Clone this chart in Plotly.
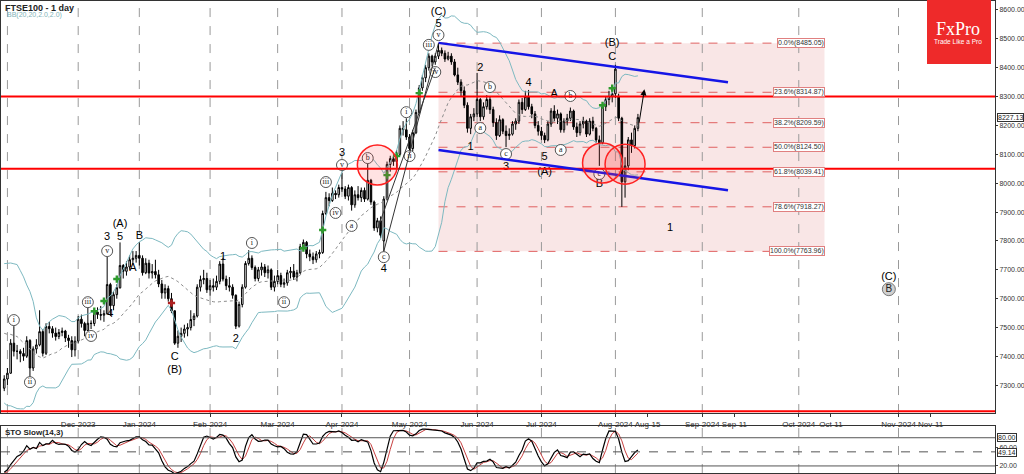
import numpy as np
import pandas as pd
import plotly.graph_objects as go

# ---------------- calendar ----------------
uk_holidays = ["2023-12-25", "2023-12-26", "2024-01-01", "2024-03-29",
               "2024-04-01", "2024-05-06", "2024-05-27"]
first_bar = "2023-10-31"
last_trading_slot = "2024-08-15"   # after this date the axis runs in calendar days

# ---------------- prices (daily OHLC, Oct 31 2023 -> Aug 12 2024) ----------------
opens = [
    7290, 7322, 7342, 7446, 7418, 7418, 7410, 7401, 7455, 7360, 7426, 7440, 7486, 7411, 7504, 7496, 7481, 7469, 7483, 7488, 7464, 7455, 7423,
    7453, 7529, 7514, 7490, 7515, 7514, 7554, 7545, 7543, 7548, 7649, 7576, 7614, 7638, 7715, 7695, 7710, 7735, 7740,
    7750, 7740, 7690, 7723, 7689, 7694, 7683, 7651, 7620, 7635, 7600, 7558, 7446, 7470, 7480, 7495, 7500, 7528, 7540, 7640, 7666, 7670,
    7631, 7645, 7640, 7660, 7720, 7668, 7645, 7640, 7612, 7505, 7580, 7640, 7722, 7740, 7708, 7670, 7700, 7710, 7690, 7700, 7640,
    7660, 7680, 7650, 7655, 7690, 7695, 7675, 7690, 7780, 7795, 7755, 7745, 7735, 7755, 7760, 7895, 7950, 7940, 7965, 7960,
    7985, 7980, 7955, 7985, 7925, 7960, 7950, 7975, 7945, 8010, 7935, 7845, 7870, 7800, 7945, 8065, 8085, 8075, 8100, 8190, 8185,
    8160, 8120, 8175, 8245, 8330, 8365, 8400, 8440, 8420, 8440, 8460, 8450, 8430, 8440, 8420, 8375, 8350, 8320, 8270, 8190, 8230,
    8240, 8290, 8230, 8265, 8290, 8255, 8210, 8165, 8220, 8180, 8165, 8170, 8205, 8215, 8280, 8255, 8300, 8265, 8240, 8200,
    8180, 8165, 8150, 8205, 8250, 8225, 8240, 8185, 8215, 8225, 8250, 8195, 8175, 8205, 8215, 8170, 8215, 8190, 8150, 8140, 8265, 8290, 8300,
    8310, 8300, 8225, 8005, 8060, 8150, 8130, 8190,
]
highs = [
    7335, 7360, 7460, 7505, 7440, 7425, 7430, 7470, 7460, 7435, 7460, 7560, 7495, 7515, 7520, 7505, 7500, 7495, 7500, 7492, 7475, 7470, 7470,
    7540, 7545, 7520, 7580, 7525, 7565, 7570, 7575, 7560, 7745, 7655, 7625, 7650, 7795, 7720, 7730, 7750, 7765, 7765,
    7795, 7750, 7740, 7735, 7720, 7735, 7700, 7665, 7650, 7645, 7620, 7560, 7490, 7500, 7510, 7515, 7560, 7550, 7650, 7680, 7700, 7690,
    7665, 7670, 7680, 7730, 7742, 7680, 7675, 7650, 7615, 7590, 7650, 7730, 7768, 7750, 7715, 7710, 7725, 7720, 7715, 7705, 7680,
    7700, 7690, 7670, 7700, 7710, 7720, 7700, 7790, 7805, 7800, 7770, 7760, 7765, 7770, 7905, 7970, 7965, 7985, 7975, 7995,
    8035, 7990, 7995, 7990, 7975, 7990, 7985, 7985, 8080, 8015, 7940, 7880, 7885, 7955, 8075, 8095, 8100, 8115, 8200, 8215, 8225,
    8170, 8185, 8255, 8340, 8375, 8410, 8450, 8445, 8450, 8485, 8470, 8460, 8455, 8450, 8430, 8400, 8360, 8335, 8280, 8240, 8260,
    8382, 8295, 8280, 8305, 8300, 8265, 8225, 8235, 8225, 8200, 8190, 8215, 8225, 8290, 8295, 8320, 8323, 8275, 8250, 8215,
    8195, 8175, 8215, 8260, 8270, 8255, 8245, 8225, 8240, 8262, 8255, 8210, 8215, 8230, 8220, 8225, 8230, 8195, 8165, 8275, 8300, 8320, 8330,
    8410, 8310, 8230, 8090, 8160, 8175, 8200, 8240,
]
lows = [
    7280, 7300, 7340, 7400, 7390, 7380, 7385, 7395, 7320, 7350, 7410, 7435, 7400, 7405, 7480, 7465, 7455, 7460, 7470, 7450, 7430, 7398, 7400,
    7445, 7500, 7470, 7488, 7495, 7505, 7530, 7525, 7520, 7545, 7540, 7560, 7600, 7635, 7670, 7680, 7700, 7720, 7725,
    7715, 7680, 7685, 7670, 7670, 7670, 7640, 7600, 7600, 7590, 7550, 7440, 7430, 7450, 7465, 7470, 7490, 7505, 7535, 7625, 7650, 7620,
    7610, 7625, 7630, 7650, 7660, 7630, 7625, 7600, 7495, 7500, 7570, 7635, 7715, 7700, 7660, 7660, 7680, 7675, 7670, 7630, 7625,
    7650, 7640, 7638, 7645, 7670, 7665, 7660, 7685, 7765, 7740, 7730, 7720, 7725, 7740, 7755, 7890, 7920, 7935, 7945, 7950,
    7970, 7945, 7940, 7905, 7915, 7940, 7935, 7935, 7940, 7925, 7835, 7830, 7810, 7764, 7940, 8040, 8060, 8050, 8095, 8165, 8150,
    8105, 8110, 8170, 8240, 8320, 8350, 8390, 8405, 8410, 8430, 8440, 8420, 8425, 8410, 8370, 8340, 8300, 8260, 8175, 8170, 8215,
    8230, 8215, 8220, 8255, 8240, 8195, 8150, 8160, 8170, 8125, 8150, 8165, 8185, 8205, 8240, 8250, 8255, 8225, 8190, 8165,
    8150, 8139, 8145, 8195, 8215, 8205, 8175, 8175, 8200, 8215, 8185, 8160, 8165, 8190, 8160, 8165, 8180, 8140, 8060, 8135, 8250, 8270, 8280,
    8295, 8215, 7918, 7950, 8045, 8105, 8120, 8180,
]
closes = [
    7322, 7342, 7446, 7418, 7418, 7410, 7401, 7455, 7360, 7426, 7440, 7486, 7411, 7504, 7496, 7481, 7469, 7483, 7488, 7464, 7455, 7423, 7453,
    7529, 7514, 7490, 7515, 7514, 7554, 7545, 7543, 7548, 7649, 7576, 7614, 7638, 7715, 7695, 7710, 7735, 7740, 7750,
    7740, 7690, 7723, 7689, 7694, 7683, 7651, 7620, 7635, 7600, 7558, 7446, 7470, 7480, 7495, 7500, 7528, 7540, 7640, 7666, 7670, 7631,
    7645, 7640, 7660, 7720, 7668, 7645, 7640, 7612, 7505, 7580, 7640, 7722, 7740, 7708, 7670, 7700, 7710, 7690, 7700, 7640, 7660,
    7680, 7650, 7655, 7690, 7695, 7675, 7690, 7780, 7795, 7755, 7745, 7735, 7755, 7760, 7895, 7950, 7940, 7965, 7960, 7985,
    7980, 7955, 7985, 7925, 7960, 7950, 7975, 7945, 8010, 7935, 7845, 7870, 7820, 7945, 8065, 8085, 8075, 8100, 8190, 8185, 8160,
    8120, 8175, 8245, 8330, 8365, 8400, 8440, 8420, 8440, 8460, 8450, 8430, 8440, 8420, 8375, 8350, 8320, 8270, 8190, 8230, 8240,
    8290, 8230, 8265, 8290, 8255, 8210, 8165, 8220, 8180, 8165, 8170, 8205, 8215, 8280, 8255, 8300, 8265, 8240, 8200, 8180,
    8165, 8150, 8205, 8250, 8225, 8240, 8185, 8215, 8225, 8250, 8195, 8175, 8205, 8215, 8170, 8215, 8190, 8150, 8140, 8265, 8290, 8300, 8310,
    8395, 8225, 8005, 8060, 8150, 8130, 8190, 8227.13,
]
# October 2023 closes, only used to warm up the Bollinger / stochastic windows
warmup_close = [7510, 7470, 7412, 7451, 7494, 7492, 7628, 7620, 7644, 7599, 7630,
                7675, 7588, 7499, 7402, 7374, 7387, 7414, 7354, 7291, 7327]

# ---------------- axis labels ----------------
tick_labels = ["Dec-2023", "Jan-2024", "Feb-2024", "Mar-2024", "Apr-2024", "May-2024", "Jun-2024",
               "Jul-2024", "Aug-2024", "Aug-15", "Sep-2024", "Sep-11", "Oct-2024", "Oct-11",
               "Nov-2024", "Nov-11"]
tick_dates = ["2023-12-01", "2024-01-02", "2024-02-01", "2024-03-01", "2024-04-02", "2024-05-01",
              "2024-06-03", "2024-07-01", "2024-08-01", "2024-08-15", "2024-09-01", "2024-09-11",
              "2024-10-01", "2024-10-11", "2024-11-01", "2024-11-11"]
month_grid_dates = ["2023-11-01", "2023-12-01", "2024-01-02", "2024-02-01", "2024-03-01", "2024-04-02",
                    "2024-05-01", "2024-06-03", "2024-07-01", "2024-08-01", "2024-09-01", "2024-10-01",
                    "2024-11-01"]
price_ticks = [7300, 7400, 7500, 7600, 7700, 7800, 7900, 8000, 8100, 8200, 8300, 8400, 8500, 8600]

# ---------------- drawings ----------------
fib_pcts = ["0.0%", "23.6%", "38.2%", "50.0%", "61.8%", "78.6%", "100.0%"]
fib_prices = [8485.05, 8314.87, 8209.59, 8124.50, 8039.41, 7918.27, 7763.96]
fib_start, fib_end = "2024-05-15", "2024-10-09"
red_levels = [8300, 8050, 7210]
channel_dates = ["2024-05-15", "2024-09-09"]
channel_upper = [8486, 8350]
channel_lower = [8115, 7976]
circle_dates = ["2024-04-17", "2024-07-26", "2024-08-06"]
circle_prices = [8063, 8070, 8066]

plain_lbl_text = ["3", "5", "(A)", "4", "A", "B", "C", "(B)", "1", "2", "3", "4", "(C)", "5",
                  "1", "2", "3", "4", "5", "(A)", "A", "(B)", "C", "B", "1", "(C)"]
plain_lbl_date = ["2023-12-14", "2023-12-20", "2023-12-20", "2023-12-15", "2023-12-28", "2024-01-02",
                  "2024-01-17", "2024-01-17", "2024-02-07", "2024-02-13", "2024-04-02", "2024-04-19",
                  "2024-05-15", "2024-05-15", "2024-05-30", "2024-06-04", "2024-06-14", "2024-06-25",
                  "2024-07-02", "2024-07-02", "2024-07-05", "2024-07-31", "2024-07-31", "2024-07-25",
                  "2024-08-22", "2024-10-29"]
plain_lbl_price = [7813, 7813, 7859, 7547, 7706, 7817, 7398, 7353, 7744, 7460, 8104, 7703,
                   8593, 8551, 8125, 8399, 8056, 8347, 8091, 8039, 8309, 8485, 8437, 7997,
                   7845, 7675]

circ_lbl_text = ["i", "ii", "iii", "iv", "v", "i", "ii", "iii", "iv", "v", "a", "b", "c",
                 "i", "ii", "iii", "iv", "v", "a", "b", "c", "a", "b", "c"]
circ_lbl_date = ["2023-11-03", "2023-11-10", "2023-12-06", "2023-12-07", "2023-12-14",
                 "2024-02-20", "2024-03-05", "2024-03-22", "2024-03-27", "2024-04-02",
                 "2024-04-05", "2024-04-12", "2024-04-19", "2024-04-30", "2024-05-01",
                 "2024-05-10", "2024-05-14", "2024-05-15", "2024-06-04", "2024-06-07",
                 "2024-06-14", "2024-07-09", "2024-07-12", "2024-07-25"]
circ_lbl_price = [7526, 7311, 7588, 7471, 7765, 7793, 7588, 8004, 7897, 8063, 7852, 8087, 7744,
                  8246, 8094, 8479, 8385, 8513, 8191, 8333, 8101, 8115, 8302, 8032]

buy_sig_date = ["2023-12-08", "2023-12-13", "2023-12-19", "2024-03-13", "2024-03-21",
                "2024-04-22", "2024-04-25", "2024-05-07", "2024-07-26", "2024-07-31"]
buy_sig_price = [7557, 7592, 7668, 7775, 7838, 8028, 8094, 8312, 8270, 8329]
sell_sig_date = ["2024-01-16"]
sell_sig_price = [7585]

arrow_from = ("2024-08-12", 8205)
arrow_to = ("2024-08-14", 8325)
sto_last = 49.14

# ---------------- slot mapping (trading days, then calendar days) ----------------
trading = pd.bdate_range(first_bar, last_trading_slot, freq="C", holidays=uk_holidays)
n_tr = len(trading)


def sx(d):
    d = pd.Timestamp(d)
    if d <= trading[-1]:
        return int(trading.searchsorted(d))
    return n_tr - 1 + (d - trading[-1]).days


n = len(closes)
xs = [sx(d) for d in trading[:n]]

# ---------------- indicators ----------------
c_all = pd.Series(warmup_close + closes, dtype=float)
h_all = pd.Series(warmup_close + highs, dtype=float)
l_all = pd.Series(warmup_close + lows, dtype=float)
mid = c_all.rolling(20).mean()
sd = c_all.rolling(20).std(ddof=0)
bb_up = (mid + 2 * sd).iloc[-n:].values
bb_lo = (mid - 2 * sd).iloc[-n:].values
bb_mid = mid.iloc[-n:].values
ll = l_all.rolling(14).min()
hh = h_all.rolling(14).max()
k_slow = (c_all - ll).rolling(3).sum() / (hh - ll).rolling(3).sum() * 100
d_line = k_slow.rolling(3).mean()
k_vis = k_slow.iloc[-n:].values
d_vis = d_line.iloc[-n:].values

# ---------------- figure ----------------
FONT = "Liberation Sans"
SERIF = "Liberation Serif"
X_RANGE = [-1.0, 308]
Y_RANGE = [7204, 8631]

fig = go.Figure()

fig.add_trace(go.Scatter(x=xs, y=bb_up, mode="lines", line=dict(color="#7DB9C1", width=1),
                         hoverinfo="skip"))
fig.add_trace(go.Scatter(x=xs, y=bb_lo, mode="lines", line=dict(color="#7DB9C1", width=1),
                         hoverinfo="skip"))
fig.add_trace(go.Scatter(x=xs, y=bb_mid, mode="lines",
                         line=dict(color="#8C8C8C", width=1, dash="dot"), hoverinfo="skip"))

fig.add_trace(go.Candlestick(
    x=xs, open=opens, high=highs, low=lows, close=closes,
    increasing=dict(line=dict(color="black", width=1), fillcolor="white"),
    decreasing=dict(line=dict(color="black", width=1), fillcolor="black"),
    whiskerwidth=0, hoverinfo="skip"))

fig.add_trace(go.Scatter(x=[sx(d) for d in buy_sig_date], y=buy_sig_price, mode="markers",
                         marker=dict(symbol="cross", size=6, color="#2E9B2E")))
fig.add_trace(go.Scatter(x=[sx(d) for d in sell_sig_date], y=sell_sig_price, mode="markers",
                         marker=dict(symbol="cross", size=6, color="#B02020")))

fig.add_trace(go.Scatter(x=[sx(d) for d in plain_lbl_date], y=plain_lbl_price, mode="text",
                         text=plain_lbl_text,
                         textfont=dict(family=FONT, size=11, color="black")))
fig.add_trace(go.Scatter(x=[sx(d) for d in circ_lbl_date], y=circ_lbl_price, mode="markers+text",
                         text=circ_lbl_text, textposition="middle center",
                         marker=dict(size=11, color="white", line=dict(color="#555", width=1)),
                         textfont=dict(family=SERIF, size=8, color="#222")))
fig.add_trace(go.Scatter(x=[sx("2024-10-29")], y=[7633], mode="markers+text", text=["B"],
                         textposition="middle center",
                         marker=dict(size=13, color="#D0D0D0", line=dict(color="#777", width=1)),
                         textfont=dict(family=FONT, size=10, color="#222")))

# stochastic
fig.add_trace(go.Scatter(x=xs, y=d_vis, mode="lines", line=dict(color="#C84040", width=1),
                         xaxis="x2", yaxis="y2"))
fig.add_trace(go.Scatter(x=xs, y=k_vis, mode="lines", line=dict(color="black", width=1.2),
                         xaxis="x2", yaxis="y2"))

shapes = []
# fib zone
fx0, fx1 = sx(fib_start), sx(fib_end)
shapes.append(dict(type="rect", xref="x", yref="y", x0=fx0, x1=fx1, y0=min(fib_prices),
                   y1=max(fib_prices), fillcolor="rgba(225,130,130,0.2)", line=dict(width=0),
                   layer="below"))
for p in fib_prices:
    shapes.append(dict(type="line", xref="x", yref="y", x0=fx0, x1=fx1, y0=p, y1=p,
                       line=dict(color="#E06060", width=1, dash="dash"), layer="below"))
# month grid
for d in month_grid_dates:
    gx = sx(d)
    shapes.append(dict(type="line", xref="x", yref="y", x0=gx, x1=gx, y0=Y_RANGE[0], y1=Y_RANGE[1],
                       line=dict(color="#9A9A9A", width=1, dash="dash"), layer="below"))
    shapes.append(dict(type="line", xref="x2", yref="y2", x0=gx, x1=gx, y0=5, y1=105,
                       line=dict(color="#9A9A9A", width=1, dash="dash"), layer="below"))
# red horizontal levels
for p in red_levels:
    shapes.append(dict(type="line", xref="paper", yref="y", x0=0, x1=1, y0=p, y1=p,
                       line=dict(color="#FF0000", width=2)))
# channel
cx = [sx(d) for d in channel_dates]
shapes.append(dict(type="line", xref="x", yref="y", x0=cx[0], x1=cx[1], y0=channel_upper[0],
                   y1=channel_upper[1], line=dict(color="#1515E6", width=2.5)))
shapes.append(dict(type="line", xref="x", yref="y", x0=cx[0], x1=cx[1], y0=channel_lower[0],
                   y1=channel_lower[1], line=dict(color="#1515E6", width=2.5)))
# wave-5 guide lines
shapes.append(dict(type="line", xref="x", yref="y", x0=sx("2024-04-19"), x1=sx("2024-05-15"),
                   y0=7764, y1=8485, line=dict(color="#333", width=1)))
shapes.append(dict(type="line", xref="x", yref="y", x0=sx("2024-04-17"), x1=sx("2024-05-14"),
                   y0=7840, y1=8400, line=dict(color="#333", width=1)))
# red circles
for d, p in zip(circle_dates, circle_prices):
    shapes.append(dict(type="circle", xref="x", yref="y", xsizemode="pixel", ysizemode="pixel",
                       xanchor=sx(d), yanchor=p, x0=-20, x1=20, y0=-20, y1=20,
                       fillcolor="rgba(255,60,60,0.15)", line=dict(color="#FF2020", width=1.5)))
# stochastic levels
for lv, dash in [(80, "solid"), (50, "dash"), (20, "solid")]:
    shapes.append(dict(type="line", xref="paper", yref="y2", x0=0, x1=1, y0=lv, y1=lv,
                       line=dict(color="#555", width=1, dash=dash)))
# FxPro logo
shapes.append(dict(type="rect", xref="paper", yref="paper", xsizemode="pixel", ysizemode="pixel",
                   xanchor=1, yanchor=1, x0=-68, x1=-4, y0=-63, y1=2,
                   fillcolor="#EE2A2A", line=dict(width=0)))

ann = []
for pct, p in zip(fib_pcts, fib_prices):
    ann.append(dict(x=fx1, y=p, xref="x", yref="y", xanchor="right", yanchor="middle",
                    text=f"{pct}({p:.2f})", showarrow=False,
                    font=dict(family=FONT, size=7, color="#333"), bgcolor="white",
                    bordercolor="#E08080", borderwidth=1, borderpad=0))
ann.append(dict(x=sx(arrow_to[0]), y=arrow_to[1], ax=sx(arrow_from[0]) + 0.3, ay=arrow_from[1],
                xref="x", yref="y", axref="x", ayref="y", text="", showarrow=True,
                arrowhead=2, arrowsize=1.2, arrowwidth=1, arrowcolor="black"))
ann.append(dict(x=0.002, y=1, xref="paper", yref="paper", xanchor="left", yanchor="top",
                text="<b>FTSE100 - 1 day</b>", showarrow=False,
                font=dict(family=FONT, size=9, color="#222")))
ann.append(dict(x=0.004, y=0.982, xref="paper", yref="paper", xanchor="left", yanchor="top",
                text="BB(20,20,2.0,2.0)", showarrow=False,
                font=dict(family=FONT, size=7, color="#7FB3B8")))
ann.append(dict(x=0.963, y=0.941, xref="paper", yref="paper", xanchor="center", yanchor="middle",
                text="FxPro", showarrow=False, font=dict(family=SERIF, size=18, color="white")))
ann.append(dict(x=0.963, y=0.915, xref="paper", yref="paper", xanchor="center", yanchor="middle",
                text="Trade Like a Pro", showarrow=False, font=dict(family=FONT, size=6.5, color="white")))
ann.append(dict(x=1.002, y=closes[-1], xref="paper", yref="y", xanchor="left", yanchor="middle",
                text=f"{closes[-1]:.2f}", showarrow=False, font=dict(family=FONT, size=7, color="#222"),
                bgcolor="white", bordercolor="#333", borderwidth=1, borderpad=0))
ann.append(dict(x=0.002, y=92, xref="paper", yref="y2", xanchor="left", yanchor="middle",
                text="<b>STO Slow(14,3)</b>", showarrow=False, font=dict(family=FONT, size=8, color="#222")))
for v in [80.0, sto_last]:
    ann.append(dict(x=1.002, y=v, xref="paper", yref="y2", xanchor="left", yanchor="middle",
                    text=f"{v:.2f}", showarrow=False, font=dict(family=FONT, size=7, color="#222"),
                    bgcolor="white", bordercolor="#333", borderwidth=1, borderpad=0))

fig.update_layout(
    width=1024, height=474, margin=dict(l=1, r=29, t=1, b=1, autoexpand=False),
    paper_bgcolor="white", plot_bgcolor="white", showlegend=False, hovermode=False,
    shapes=shapes, annotations=ann,
    xaxis=dict(domain=[0, 1], range=X_RANGE, anchor="y", rangeslider=dict(visible=False),
               tickvals=[sx(d) for d in tick_dates], ticktext=tick_labels, ticks="outside",
               tickangle=0, automargin=False,
               ticklen=3, tickcolor="#333", tickfont=dict(family=FONT, size=8, color="#333"),
               showgrid=False, zeroline=False, showline=True, linecolor="#333", mirror=True),
    yaxis=dict(domain=[0.127, 1], range=Y_RANGE, side="right", anchor="x", automargin=False,
               tickvals=price_ticks, ticktext=[f"{p:.2f}" for p in price_ticks], ticks="outside",
               ticklen=2, tickcolor="#333", tickfont=dict(family=FONT, size=7, color="#333"),
               showgrid=False, zeroline=False, showline=True, linecolor="#333", mirror=True),
    xaxis2=dict(domain=[0, 1], range=X_RANGE, anchor="y2", matches="x", showticklabels=False,
                automargin=False,
                showgrid=False, zeroline=False, showline=True, linecolor="#333", mirror=True),
    yaxis2=dict(domain=[0, 0.0996], range=[5, 105], side="right", anchor="x2", automargin=False,
                tickvals=[20, 60], ticktext=["20.00", "60.00"], ticks="outside", ticklen=2,
                tickfont=dict(family=FONT, size=7, color="#333"),
                showgrid=False, zeroline=False, showline=True, linecolor="#333", mirror=True),
)

fig.write_html("out.html", config={"displayModeBar": False},
               post_script="document.body.style.margin='0';document.body.style.overflow='hidden';")
